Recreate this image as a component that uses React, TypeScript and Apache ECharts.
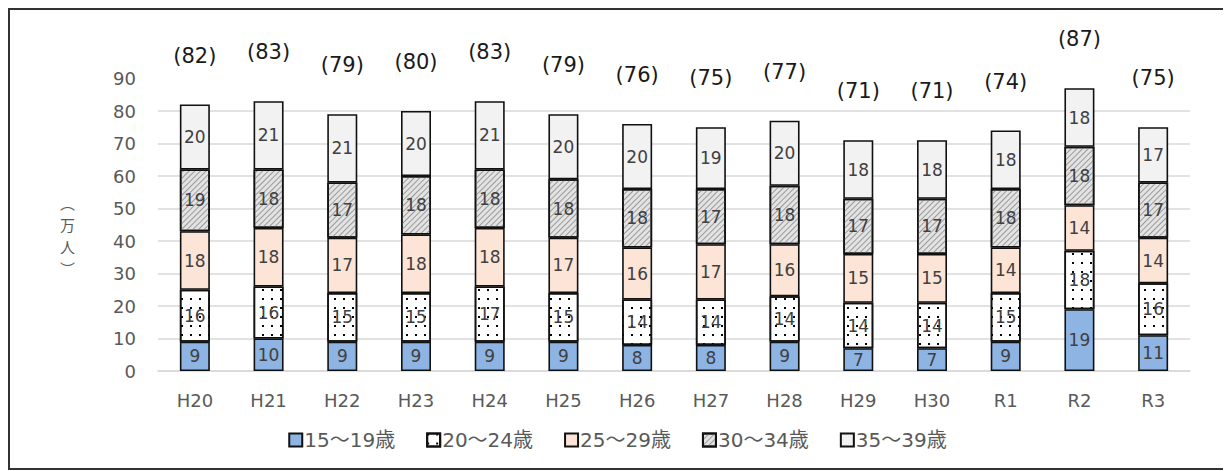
import React, { useEffect, useRef } from "react";
import * as echarts from "echarts";

const categories = ["H20", "H21", "H22", "H23", "H24", "H25", "H26", "H27", "H28", "H29", "H30", "R1", "R2", "R3"];
const seriesNames = ["15〜19歳", "20〜24歳", "25〜29歳", "30〜34歳", "35〜39歳"];
const age15to19 = [9, 10, 9, 9, 9, 9, 8, 8, 9, 7, 7, 9, 19, 11];
const age20to24 = [16, 16, 15, 15, 17, 15, 14, 14, 14, 14, 14, 15, 18, 16];
const age25to29 = [18, 18, 17, 18, 18, 17, 16, 17, 16, 15, 15, 14, 14, 14];
const age30to34 = [19, 18, 17, 18, 18, 18, 18, 17, 18, 17, 17, 18, 18, 17];
const age35to39 = [20, 21, 21, 20, 21, 20, 20, 19, 20, 18, 18, 18, 18, 17];
const totals = [82, 83, 79, 80, 83, 79, 76, 75, 77, 71, 71, 74, 87, 75];
const yTicks = [0, 10, 20, 30, 40, 50, 60, 70, 80, 90];
const yAxisNameChars = ["︵", "万", "人", "︶"];

const LATIN = "'DejaVu Sans', 'Noto Sans CJK JP', sans-serif";
const GRAY = "#595959";

export default function App() {
  const ref = useRef<HTMLDivElement>(null);
  useEffect(() => {
    if (!ref.current) return;
    const chart = echarts.init(ref.current, undefined, { renderer: "svg" });
    const values = [age15to19, age20to24, age25to29, age30to34, age35to39];
    const fills = ["#8DB4E2", "#FFFFFF", "#FCE4D6", "#E3E3E3", "#F2F2F2"];
    const decals: any[] = [
      undefined,
      {
        symbol: "rect",
        symbolSize: 1,
        color: "#000000",
        backgroundColor: "#FFFFFF",
        dashArrayX: [2, 6.5],
        dashArrayY: [2, 6.5],
      },
      undefined,
      {
        symbol: "rect",
        symbolSize: 1,
        color: "#9A9A9A",
        backgroundColor: "#E3E3E3",
        dashArrayX: [1, 0],
        dashArrayY: [1, 3],
        rotation: -Math.PI / 4,
      },
      undefined,
    ];
    const barSeries = values.map((v, i) => ({
      name: seriesNames[i],
      type: "bar",
      stack: "total",
      barWidth: 30,
      data: v,
      itemStyle: {
        color: fills[i],
        borderColor: "#111111",
        borderWidth: 1.6,
        decal: decals[i],
      },
      label: {
        show: true,
        position: "inside",
        color: "#404040",
        fontFamily: LATIN,
        fontSize: 17,
      },
      emphasis: { disabled: true },
    }));
    const splitColors = yTicks.map((t, i) => (i === yTicks.length - 1 ? "rgba(0,0,0,0)" : "#D9D9D9"));
    chart.setOption({
      animation: false,
      grid: { left: 148, right: 35, top: 68.5, bottom: 97 },
      legend: {
        data: seriesNames,
        bottom: 13,
        left: "center",
        icon: "rect",
        itemWidth: 13,
        itemHeight: 13,
        itemGap: 31,
        textStyle: { color: GRAY, fontSize: 20, fontFamily: LATIN, padding: [0, 0, 0, -3] },
      },
      xAxis: {
        type: "category",
        data: categories,
        axisLine: { lineStyle: { color: "#D9D9D9", width: 1.5 } },
        axisTick: { show: false },
        axisLabel: { color: GRAY, fontSize: 18, fontFamily: LATIN, margin: 20 },
      },
      yAxis: {
        type: "value",
        min: 0,
        max: 90,
        interval: 10,
        axisLine: { show: false },
        axisTick: { show: false },
        axisLabel: { color: GRAY, fontSize: 18, fontFamily: LATIN, margin: 22 },
        splitLine: { lineStyle: { color: splitColors, width: 1.5 } },
      },
      graphic: [
        {
          type: "group",
          left: 50,
          top: 184,
          children: yAxisNameChars.map((c, i) => ({
            type: "text",
            x: 0,
            y: i * 22,
            style: {
              text: c,
              fill: GRAY,
              font: "15px 'Noto Sans CJK JP'",
              lineHeight: 16,
            },
          })),
        },
      ],
      series: [
        ...barSeries,
        {
          name: "合計",
          type: "line",
          data: totals,
          symbol: "circle",
          symbolSize: 1,
          itemStyle: { color: "rgba(0,0,0,0)" },
          lineStyle: { color: "rgba(0,0,0,0)" },
          silent: true,
          z: 10,
          label: {
            show: true,
            position: "top",
            distance: 38,
            color: "#1a1a1a",
            fontSize: 21,
            fontFamily: LATIN,
            formatter: (p: any) => `(${p.value})`,
          },
        },
      ],
    });
    return () => chart.dispose();
  }, []);
  return (
    <div
      ref={ref}
      style={{ width: 1215, height: 458, border: "2px solid #333333", background: "#fff" }}
    />
  );
}
